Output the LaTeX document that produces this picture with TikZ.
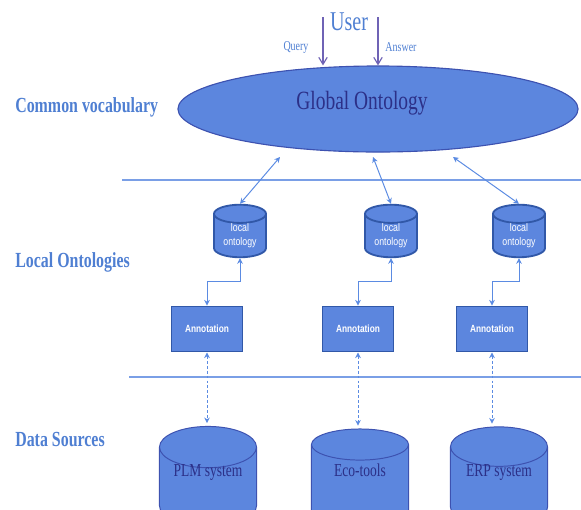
\documentclass[tikz,border=0pt]{standalone}
\usepackage{fontspec}
\setmainfont{Liberation Serif}
\newfontfamily\narrowserif[FakeStretch=0.74]{Liberation Serif}
\newfontfamily\narrowsans[FakeStretch=0.8]{Liberation Sans}
\usetikzlibrary{shapes.geometric,arrows.meta,calc}
\definecolor{lab}{HTML}{4F7FD2}
\definecolor{navy}{HTML}{2C3088}
\definecolor{boxfill}{HTML}{5C86DE}
\definecolor{rim}{HTML}{3D52B0}
\definecolor{boxrim}{HTML}{3158A8}
\definecolor{linkc}{HTML}{5B8BE2}
\definecolor{qac}{HTML}{6F63B5}
\definecolor{sepc}{HTML}{7A9FE6}
\newcommand{\dbname}[1]{\smash{\raisebox{0.275cm}{#1}}}
\tikzset{
  layer/.style={text=lab, anchor=west, inner sep=0pt, font=\narrowserif\bfseries\fontsize{15.3}{17}\selectfont},
  small/.style={text=lab, font=\narrowserif\fontsize{9.6}{11}\selectfont},
  globe/.style={ellipse, draw=rim, fill=boxfill, line width=0.8pt, minimum width=10cm, minimum height=2.15cm},
  gtitle/.style={text=navy, font=\narrowserif\fontsize{18.7}{20}\selectfont},
  localdb/.style={cylinder, shape border rotate=90, aspect=0.55, draw=boxrim, line width=1.3pt, fill=boxfill,
    minimum width=1.3cm, minimum height=1.1cm, inner sep=0pt, text=white, align=center,
    font=\narrowsans\fontsize{7.8}{10}\selectfont},
  annot/.style={rectangle, draw=boxrim, line width=1.4pt, fill=boxfill, minimum width=1.775cm, minimum height=1.125cm,
    text=white, font=\narrowsans\bfseries\fontsize{7.4}{9}\selectfont},
  source/.style={cylinder, shape border rotate=90, aspect=0.6, draw=rim, line width=0.7pt, fill=boxfill,
    minimum width=2.425cm, minimum height=2.5cm, inner sep=0pt,
    text=navy, font=\narrowserif\fontsize{13}{15}\selectfont},
  link/.style={draw=linkc, line width=0.7pt, {Stealth[length=4pt,width=4pt]}-{Stealth[length=4pt,width=4pt]}},
  dlink/.style={link, dash pattern=on 2pt off 1.5pt, shorten >=2pt},
  qa/.style={draw=qac, line width=0.8pt, -{Straight Barb[length=5pt,width=6pt]}},
  sepline/.style={draw=sepc, line width=0.8pt}
}

\begin{document}
\begin{tikzpicture}[x=0.025cm, y=-0.025cm]
  \useasboundingbox (0,0) rectangle (581,509);

  % user side
  \node[text=lab, font=\narrowserif\fontsize{19.3}{21}\selectfont] (user) at (349,22) {User};
  \node[small] (query) at (296,47) {Query};
  \node[small] (answer) at (401,47) {Answer};
  \coordinate (qtop) at (323,17);
  \coordinate (atop) at (378,17);

  % common vocabulary
  \node[globe] (global) at (378,109) {};
  \node[gtitle] (gname) at (362,103) {Global Ontology};
  \draw[qa] (qtop) -- (qtop |- global.north);
  \draw[qa] (atop) -- (atop |- global.north);

  % layer names and separators
  \node[layer] (lvoc) at (15,107) {Common vocabulary};
  \node[layer] (lloc) at (15,262) {Local Ontologies};
  \node[layer] (lsrc) at (15,440) {Data Sources};
  \draw[sepline] (122,180) -- (581,180);
  \draw[sepline] (129,377) -- (581,377);

  % local ontologies
  \node[localdb] (lo1) at (240,236) {local\\ontology};
  \node[localdb] (lo2) at (391,236) {local\\ontology};
  \node[localdb] (lo3) at (519,236) {local\\ontology};

  \coordinate (g1) at (280,157);
  \coordinate (g2) at (373,157);
  \coordinate (g3) at (453,157);
  \draw[link] (g1) -- (lo1.top);
  \draw[link] (g2) -- (lo2.top);
  \draw[link] (g3) -- (lo3.top);

  % annotations
  \node[annot] (an1) at (207,329) {Annotation};
  \node[annot] (an2) at (358,329) {Annotation};
  \node[annot] (an3) at (492,329) {Annotation};

  \draw[link] (an1.north) |- ($(an1.north)!0.5!(lo1.bottom)$) -| (lo1.bottom);
  \draw[link] (an2.north) |- ($(an2.north)!0.5!(lo2.bottom)$) -| (lo2.bottom);
  \draw[link] (an3.north) |- ($(an3.north)!0.5!(lo3.bottom)$) -| (lo3.bottom);

  % data sources
  \node[source] (ds1) at (208,487) {\dbname{PLM system}};
  \node[source] (ds2) at (360,487) {\dbname{Eco-tools}};
  \node[source] (ds3) at (499,487) {\dbname{ERP system}};

  \draw[dlink] (an1.south) -- (an1.south |- ds1.top);
  \draw[dlink] (an2.south) -- (an2.south |- ds2.top);
  \draw[dlink] (an3.south) -- (an3.south |- ds3.top);
\end{tikzpicture}
\end{document}
